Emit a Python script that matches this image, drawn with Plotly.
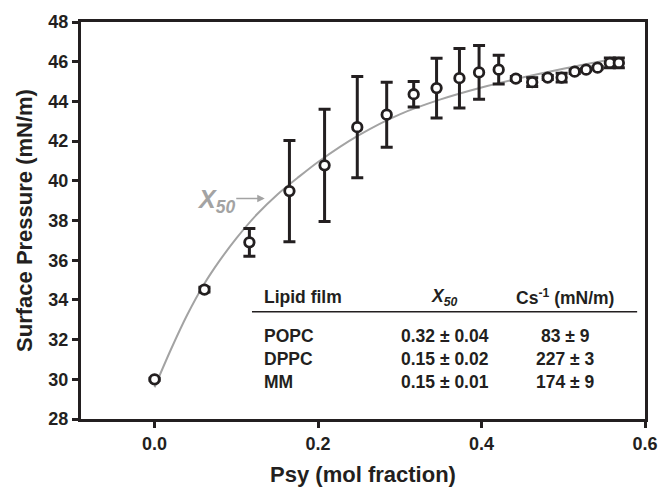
import plotly.graph_objects as go

# ---- data ----
psy = [0.0, 0.061, 0.116, 0.165, 0.208, 0.248, 0.284, 0.317, 0.345, 0.373, 0.397,
       0.421, 0.442, 0.462, 0.481, 0.498, 0.514, 0.528, 0.542, 0.557, 0.568]
pressure = [30.0, 34.52, 36.9, 39.48, 40.78, 42.7, 43.33, 44.36, 44.67, 45.17, 45.46,
            45.6, 45.15, 44.97, 45.2, 45.2, 45.5, 45.6, 45.7, 45.94, 45.94]
pressure_err = [0.05, 0.12, 0.7, 2.55, 2.83, 2.55, 1.64, 0.64, 1.5, 1.5, 1.35,
                0.72, 0.1, 0.22, 0.1, 0.22, 0.1, 0.05, 0.05, 0.25, 0.25]

fit_x = [0.0, 0.02, 0.04, 0.06, 0.08, 0.10, 0.125, 0.15, 0.175, 0.20, 0.25,
         0.30, 0.35, 0.40, 0.45, 0.50, 0.55, 0.57]
fit_y = [29.6, 31.5, 33.25, 34.75, 36.0, 37.1, 38.3, 39.3, 40.15, 40.95, 42.3,
         43.35, 44.1, 44.7, 45.2, 45.65, 46.05, 46.2]

x_ticks = [0.0, 0.2, 0.4, 0.6]
y_ticks = [28, 30, 32, 34, 36, 38, 40, 42, 44, 46, 48]

table_header = ["Lipid film", "<i>X</i><sub><i>50</i></sub>", "Cs<sup>-1</sup> (mN/m)"]
table_films = ["POPC", "DPPC", "MM"]
table_x50 = ["0.32 ± 0.04", "0.15 ± 0.02", "0.15 ± 0.01"]
table_cs = ["83 ± 9", "227 ± 3", "174 ± 9"]

INK = "#231f20"
GRAY = "#a3a3a3"
FONT = "Liberation Sans, Arial, sans-serif"

fig = go.Figure()
fig.add_trace(go.Scatter(x=fit_x, y=fit_y, mode="lines",
                         line=dict(color=GRAY, width=2, shape="spline", smoothing=0.8),
                         hoverinfo="skip", showlegend=False))
fig.add_trace(go.Scatter(
    x=psy, y=pressure, mode="markers",
    marker=dict(symbol="circle", size=9.5, color="white", line=dict(color=INK, width=2.8)),
    error_y=dict(type="data", array=pressure_err, visible=True, color=INK, thickness=3, width=6),
    showlegend=False))

# plot area pixel geometry -> paper coords
L, R, T, B = 81, 655, 19, 426
def px(x):
    return (x - L) / (R - L)
def py(y):
    return (B - y) / (B - T)

ann = []
# table
col_x = [px(265), px(451), px(574)]
row_y = [py(301), py(341), py(365), py(388)]
anchors = ["left", "center", "center"]
for j, t in enumerate(table_header):
    ann.append(dict(x=col_x[j], y=row_y[0], text="<b>%s</b>" % t, xanchor=anchors[j]))
for i in range(3):
    for j, t in enumerate([table_films[i], table_x50[i], table_cs[i]]):
        ann.append(dict(x=col_x[j], y=row_y[i + 1], text="<b>%s</b>" % t, xanchor=anchors[j]))
for a in ann:
    a.update(xref="paper", yref="paper", yanchor="middle", showarrow=False,
             font=dict(family=FONT, size=17.5, color=INK))

# X50 label + arrow
ann.append(dict(x=px(218), y=py(203), xref="paper", yref="paper", showarrow=False,
                text="<b><i>X</i></b><sub><b><i>50</i></b></sub>",
                font=dict(family=FONT, size=25, color=GRAY), xanchor="center", yanchor="middle"))
ann.append(dict(x=px(268), y=py(200), xref="paper", yref="paper", ax=-30, ay=0, text="",
                showarrow=True, arrowhead=2, arrowsize=1, arrowwidth=1.5, arrowcolor=GRAY))

fig.update_layout(
    width=670, height=496,
    margin=dict(l=L, r=670 - R, t=T, b=496 - B),
    paper_bgcolor="white", plot_bgcolor="white",
    font=dict(family=FONT, color=INK),
    annotations=ann,
    shapes=[dict(type="line", xref="paper", yref="paper", x0=px(255), x1=px(647),
                 y0=py(316), y1=py(316), line=dict(color=INK, width=1.5))],
)
fig.update_xaxes(
    range=[-0.09, 0.6], tickvals=x_ticks, ticktext=["<b>%.1f</b>" % v for v in x_ticks],
    showline=True, linewidth=3, linecolor=INK, mirror=True,
    ticks="outside", ticklen=6, tickwidth=3, tickcolor=INK,
    showgrid=False, zeroline=False,
    tickfont=dict(family=FONT, size=18, color=INK),
    title=dict(text="<b>Psy (mol fraction)</b>", font=dict(family=FONT, size=22, color=INK), standoff=15),
)
fig.update_yaxes(
    range=[28, 48], tickvals=y_ticks, ticktext=["<b>%d</b>" % v for v in y_ticks],
    showline=True, linewidth=3, linecolor=INK, mirror=True,
    ticks="outside", ticklen=6, tickwidth=3, tickcolor=INK,
    showgrid=False, zeroline=False,
    tickfont=dict(family=FONT, size=18, color=INK),
    title=dict(text="<b>Surface Pressure (mN/m)</b>", font=dict(family=FONT, size=22, color=INK), standoff=10),
)

fig.write_html("out.html")
